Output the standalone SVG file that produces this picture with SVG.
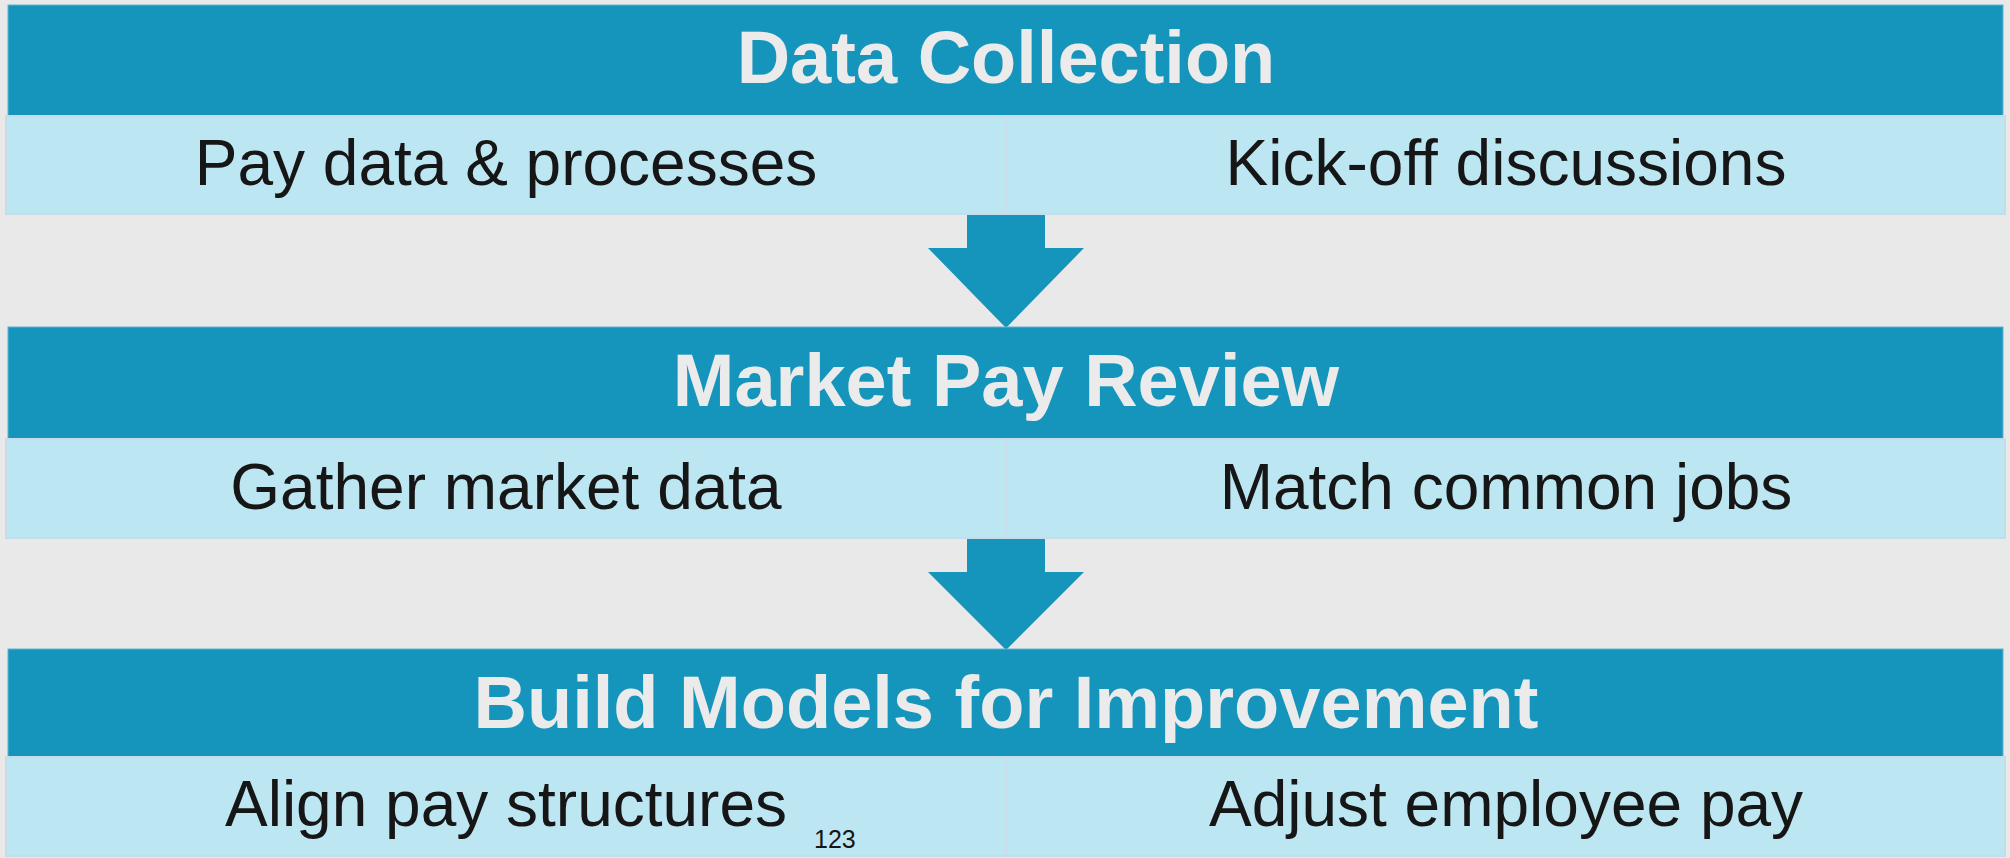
<svg xmlns="http://www.w3.org/2000/svg" width="2010" height="858" viewBox="0 0 2010 858">
<style>
.bg{fill:#EAE9EA}
.hdr{fill:#1695BC;stroke:#5FB3D0;stroke-width:1}
.band{fill:#BCE6F2;stroke:#C6DCE8;stroke-width:2}
.div{stroke:#C9DEE8;stroke-width:2}
.arrow{fill:#1695BC}
.title{font-family:"Liberation Sans",Arial,sans-serif;font-weight:bold;font-size:74px;fill:#ECEBEC;text-anchor:middle}
.sub{font-family:"Liberation Sans",Arial,sans-serif;font-size:64px;fill:#161616;text-anchor:middle}
.pg{font-family:"Liberation Sans",Arial,sans-serif;font-size:25px;fill:#161616}
</style>
<rect class="bg" x="0" y="0" width="2010" height="858"/>
<g id="connectors">
<polygon class="arrow" points="967,214 1045,214 1045,248 1084,248 1006,328 928,248 967,248"/>
<polygon class="arrow" points="967,538 1045,538 1045,572 1084,572 1006,650 928,572 967,572"/>
</g>
<g id="data-collection">
<rect class="hdr" x="8" y="5" width="1995" height="111"/>
<rect class="band" x="6" y="116" width="1999" height="98"/>
<line class="div" x1="1006" y1="117" x2="1006" y2="213"/>
<text class="title" x="1006" y="83">Data Collection</text>
<text class="sub" x="506" y="185">Pay data &amp; processes</text>
<text class="sub" x="1506" y="185">Kick-off discussions</text>
</g>
<g id="market-pay-review">
<rect class="hdr" x="8" y="327" width="1995" height="112"/>
<rect class="band" x="6" y="439" width="1999" height="99"/>
<line class="div" x1="1006" y1="440" x2="1006" y2="537"/>
<text class="title" x="1006" y="406">Market Pay Review</text>
<text class="sub" x="506" y="509">Gather market data</text>
<text class="sub" x="1506" y="509">Match common jobs</text>
</g>
<g id="build-models">
<rect class="hdr" x="8" y="649" width="1995" height="108"/>
<rect class="band" x="6" y="757" width="1999" height="99"/>
<line class="div" x1="1006" y1="758" x2="1006" y2="855"/>
<text class="title" x="1006" y="728">Build Models for Improvement</text>
<text class="sub" x="506" y="826">Align pay structures</text>
<text class="sub" x="1506" y="826">Adjust employee pay</text>
</g>
<text class="pg" x="814" y="848">123</text>
</svg>
